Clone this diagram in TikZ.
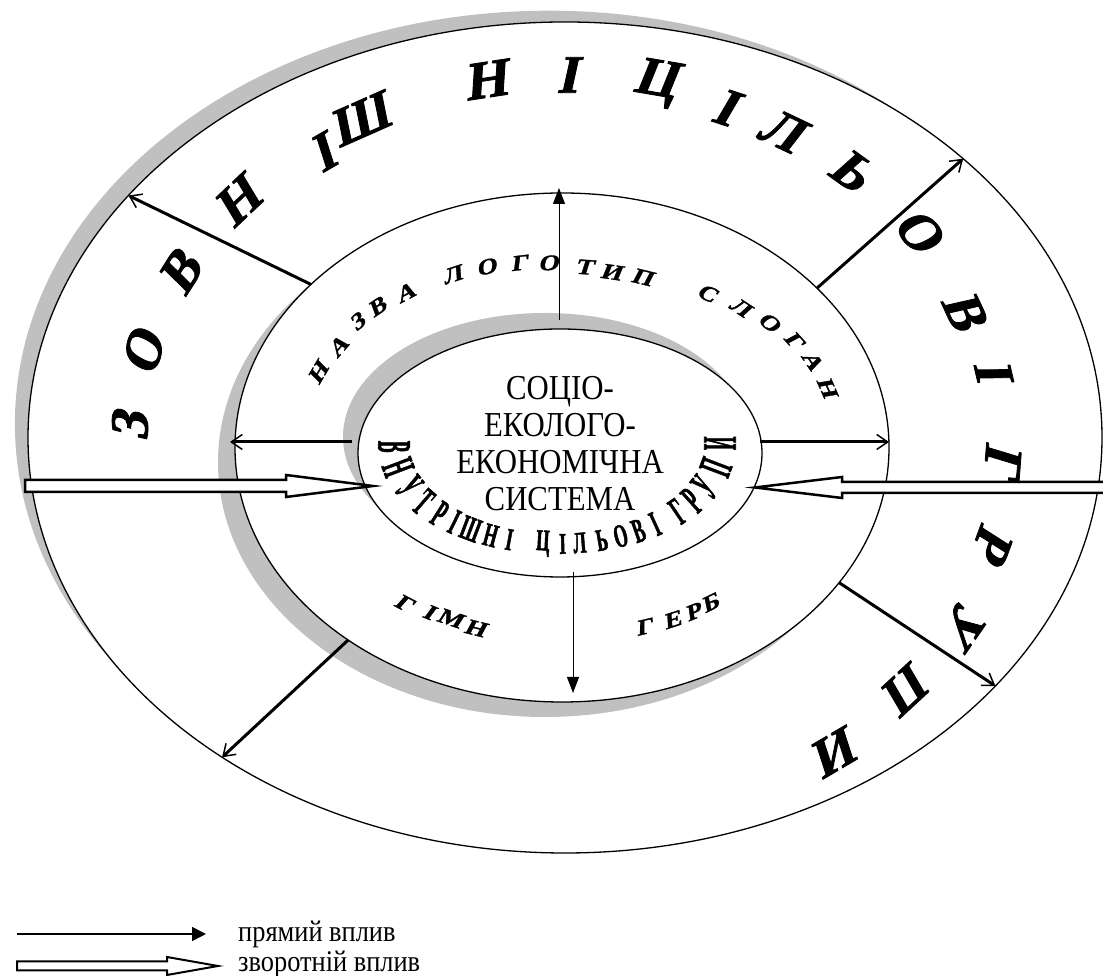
\documentclass[tikz,border=0pt]{standalone}
\usepackage{fontspec}
\setmainfont{Liberation Serif}
\newfontfamily\narrowserif[FakeStretch=0.88]{Liberation Serif}
\newfontfamily\archserif[FakeStretch=0.58, FakeBold=1.5]{Liberation Serif}
\newfontfamily\ringserif[FakeSlant=0.22, FakeBold=1.5]{Liberation Serif}
\newfontfamily\brandserif[FakeSlant=0.25, FakeStretch=1.2, FakeBold=1.5]{Liberation Serif}
\usepackage{tikz}
\usetikzlibrary{
  arrows.meta,
  shapes.geometric,
  calc
}
\definecolor{shadowgray}{RGB}{192,192,192}

\begin{document}
\begin{tikzpicture}[
  x=1pt, y=1pt,
  ring/.style={draw, ellipse, fill=white, line width=1.3pt, inner sep=0pt, outer sep=0pt},
  ringshadow/.style={fill=shadowgray},
  direct/.style={line width=1pt, -{Triangle[length=16pt, width=12pt]}},
  spread/.style={line width=3pt, -{Straight Barb[length=11pt, width=15pt, line width=1.5pt]}},
  backflow/.style={draw, fill=white, line width=2.5pt, line join=miter},
  extletter/.style={font=\ringserif\fontsize{54}{54}\selectfont\bfseries, inner sep=0pt},
  brandletter/.style={font=\brandserif\fontsize{22}{22}\selectfont\bfseries, inner sep=0pt},
  coreletter/.style={font=\archserif\fontsize{30}{30}\selectfont\bfseries, inner sep=0pt},
  keytext/.style={font=\narrowserif\fontsize{30}{30}\selectfont, anchor=west, inner sep=0pt},
]
\useasboundingbox (0,0) rectangle (1103,976);

% three rings, each laid over its grey shadow
\fill[ringshadow] (548.7,552.3) ellipse [x radius=533.8, y radius=413];
\node[ring, minimum width=1074pt, minimum height=831pt] (outerring) at (565,538.5) {};
\fill[ringshadow] (545,513.5) ellipse [x radius=327, y radius=254.5];
\node[ring, minimum width=654pt, minimum height=509pt] (midring) at (562,528.5) {};
\fill[ringshadow] (545,539) ellipse [x radius=202, y radius=124];
\node[ring, minimum width=404pt, minimum height=248pt] (core) at (560,523) {};

\node[font=\narrowserif\fontsize{35}{37}\selectfont, align=center, inner sep=0pt] (systemlabel) at (560,532)
  {СОЦІО-\\ЕКОЛОГО-\\ЕКОНОМІЧНА\\СИСТЕМА};

% direct influence
\draw[direct] ([xshift=-1pt, yshift=9pt]core.north) -- ([xshift=-3pt, yshift=5pt]midring.north);
\draw[direct] ([xshift=13pt, yshift=5pt]core.south) -- ([xshift=11pt, yshift=9pt]midring.south);
\draw[spread] ([xshift=-6pt, yshift=11pt]core.west) -- ([xshift=-5pt, yshift=5.5pt]midring.west);
\draw[spread] ([xshift=-2pt, yshift=11pt]core.east) -- ([yshift=5.5pt]midring.east);
\draw[spread] (midring.147) -- (outerring.151);
\draw[spread] (midring.32) -- (outerring.35);
\draw[spread] (midring.-26) -- (outerring.-30);
\draw[spread] (midring.222) -- (outerring.223);

% feedback
\draw[backflow] ([xshift=15pt, yshift=-33pt]core.west) -- ++(-87,11) -- ++(0,-5)
  -- (25,496) -- (25,484) -- (286,484) -- ++(0,-5) -- cycle;
\draw[backflow] ([xshift=-7pt, yshift=-34.5pt]core.east) -- ++(87,10.5) -- ++(0,-5)
  -- (1120,494) -- (1120,483) -- (842,483) -- ++(0,-5) -- cycle;

% outer ring lettering
\foreach \ch/\px/\py [count=\i] in {З/130/549, О/143/623, В/180/703, Н/237/774, І/322/823,
    Ш/359/856, Н/485/896, І/567/901, Ц/655/893, І/725/869, Л/781/846, Ь/851/806,
    О/918/746, В/964/666, І/993/606, Г/1003/516, Р/993/433, У/965/353, П/908/289, И/838/226} {
  \pgfmathsetmacro\tilt{atan2((\py-539)/1310.44, (\px-566)/1936) - 90}
  \node[extletter, rotate=\tilt] (ext\i) at (\px,\py) {\ch};
}

% middle ring lettering
\foreach \ch/\px/\py [count=\i] in {Н/318/603, А/338/629, З/357/654, В/377/669, А/405/683,
    Л/452/701, О/486/709, Г/519/713, О/548/713, Т/584/709, И/611/704, П/642/699,
    С/707/683, Л/740/669, О/769/654, Г/794/636, А/812/616, Н/827/589} {
  \pgfmathsetmacro\tilt{atan2((\py-529)/334.89, (\px-562)/650.25) - 90}
  \node[brandletter, rotate=\tilt] (brand\i) at (\px,\py) {\ch};
}
\foreach \ch/\px/\py [count=\i] in {Г/404/373, І/429/364, М/450/358, Н/475/348,
    Г/644/349, Е/672/356, Р/693/364, Б/710/373} {
  \pgfmathsetmacro\tilt{atan2((\py-529)/334.89, (\px-562)/650.25) + 90}
  \node[brandletter, rotate=\tilt] (sym\i) at (\px,\py) {\ch};
}

% inner lettering, arched along the lower rim
\foreach \ch/\t [count=\i] in {В/181, Н/193, У/205, Т/215, Р/224, І/231, Ш/238, Н/246, І/253,
    Ц/265, І/272, Л/278, Ь/286, О/293, В/300, І/307, Г/318, Р/326, У/335, П/347, И/361} {
  \pgfmathsetmacro\tilt{atan2(sin(\t)/99, cos(\t)/163) + 90}
  \pgfmathsetmacro\stretch{1 + 0.6*cos(\t)*cos(\t)}
  \node[coreletter, rotate=\tilt, yscale=\stretch] (int\i) at ({557+163*cos(\t)}, {531+99*sin(\t)}) {\ch};
}

% legend
\node[keytext] (keydirect) at (238,42) {прямий вплив};
\node[keytext] (keyback) at (238,12) {зворотній вплив};
\coordinate (keystart) at (17,42);
\draw[line width=1.5pt, -{Triangle[length=14pt, width=14pt]}] (keystart) -- ([xshift=-32pt]keydirect.west);
\draw[backflow, line width=2pt] ([xshift=-20pt, yshift=-2pt]keyback.west) -- ++(-51,9) -- ++(0,-4.5)
  -- (17,14.5) -- (17,5.5) -- (167,5.5) -- ++(0,-4.5) -- cycle;

\end{tikzpicture}
\end{document}
